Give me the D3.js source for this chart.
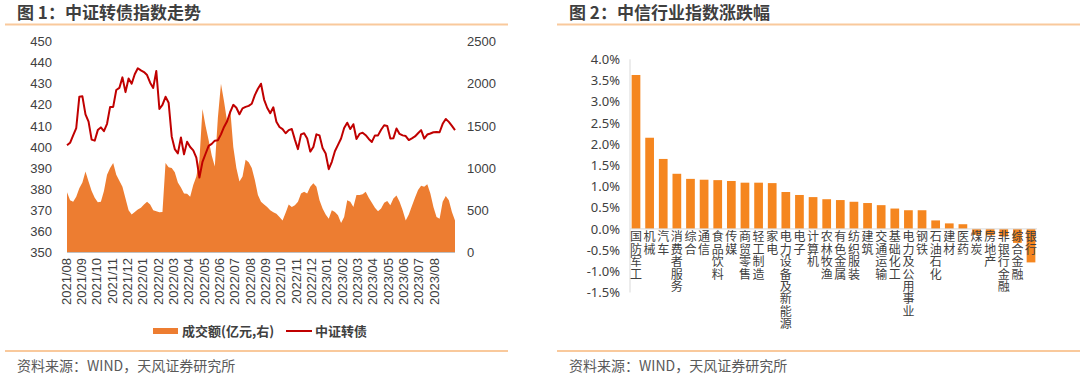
<!DOCTYPE html>
<html>
<head>
<meta charset="utf-8">
<script src="https://cdn.jsdelivr.net/npm/d3@7"></script>
<style>
  body { margin: 0; background: #fff; }
  svg { display: block; }
</style>
</head>
<body>
<div id="rendering"></div>
<script>
// 图1 month labels
const monthLabels = [
  "2021/08", "2021/09", "2021/10", "2021/11", "2021/12", "2022/01", "2022/02",
  "2022/03", "2022/04", "2022/05", "2022/06", "2022/07", "2022/08", "2022/09",
  "2022/10", "2022/11", "2022/12", "2023/01", "2023/02", "2023/03", "2023/04",
  "2023/05", "2023/06", "2023/07", "2023/08"
];
// 中证转债 (left axis), evenly spaced observations
const cbIndex = [
  400.8, 402, 405.5, 409, 423.8, 424, 415.5, 412, 403.5, 403, 408, 409.3, 407.5, 411, 419, 419,
  427, 428, 433, 426, 432.5, 430, 434.5, 437.3, 436.3, 435.5, 434.1, 430.5, 428, 436, 418, 420,
  423.8, 421, 405, 399, 397, 404.5, 396.5, 402.5, 400, 398.4, 395, 385.5, 393, 396.8, 400.5, 401.5,
  403, 403.2, 406, 409.5, 412.2, 416.5, 420, 418.6, 415.5, 418.3, 419, 419.5, 420.5, 424.6, 427.6, 430,
  422.5, 418.6, 416, 418.8, 412, 409.5, 408.5, 406.5, 408, 408.5, 403.5, 399, 406, 406.5, 404, 397.8,
  400, 406, 405.5, 399.5, 396.9, 389.5, 393, 398, 401, 404, 409, 411.5, 408.5, 410.8, 403.8, 406.2,
  406.8, 405.6, 403.8, 402.4, 405.5, 405.5, 408.2, 410.3, 410, 404, 404.2, 408.8, 406.2, 405.5, 405.2, 403.3,
  404.1, 405, 406.5, 408, 404, 405.9, 406.4, 407, 407.1, 407, 411, 413.3, 411.9, 410, 408
];
// 成交额(亿元, right axis)
const turnover = [
  714, 620, 600, 660, 760, 830, 960, 840, 730, 650, 595, 600, 730, 920, 1000, 1060,
  920, 850, 780, 640, 500, 450, 480, 510, 530, 570, 600, 570, 500, 490, 476, 480,
  1060, 1010, 1000, 950, 830, 770, 700, 695, 660, 800, 900, 1100, 1700, 1500, 1330, 1150,
  1020, 1600, 2000, 1790, 1550, 1700, 1250, 1000, 840, 900, 1100, 1070, 1000, 860, 680, 600,
  570, 540, 500, 476, 460, 420, 380, 470, 570, 540, 560, 600, 700, 720, 700, 780,
  820, 780, 620, 520, 450, 400, 500, 480, 440, 350, 420, 620, 600, 540, 680, 680,
  690, 720, 650, 590, 530, 490, 520, 590, 610, 560, 640, 675, 600, 500, 380, 450,
  550, 650, 740, 790, 780, 810, 700, 540, 420, 400, 600, 670, 620, 480, 380
];
const monthSpan = 25.3;

// 图2
const industries = [
  "国防军工", "机械", "汽车", "消费者服务", "综合", "通信", "食品饮料", "传媒", "商贸零售", "轻工制造",
  "家电", "电力设备及新能源", "电子", "计算机", "农林牧渔", "有色金属", "纺织服装", "建筑", "交通运输", "基础化工",
  "电力及公用事业", "钢铁", "石油石化", "建材", "医药", "煤炭", "房地产", "非银行金融", "综合金融", "银行"
];
const changes = [
  3.63, 2.15, 1.65, 1.30, 1.18, 1.16, 1.15, 1.13, 1.09, 1.09,
  1.08, 0.87, 0.80, 0.75, 0.70, 0.68, 0.64, 0.61, 0.56, 0.48,
  0.44, 0.44, 0.20, 0.13, 0.11, -0.14, -0.15, -0.18, -0.33, -0.79
];
const pctTicks = [-1.5, -1.0, -0.5, 0, 0.5, 1.0, 1.5, 2.0, 2.5, 3.0, 3.5, 4.0];

const width = 1080;
const height = 391;
const textColor = "#404040";
const latin = "'Liberation Sans', Arial, sans-serif";
const cjk = "'Noto Sans CJK SC', 'Noto Sans', sans-serif";

const svg = d3
  .select("#rendering")
  .append("svg")
  .attr("width", width)
  .attr("height", height);

// titles, rules and sources
const panels = [
  { title: "图 1：中证转债指数走势", tx: 17, x0: 5, x1: 508 },
  { title: "图 2：中信行业指数涨跌幅", tx: 569, x0: 557, x1: 1080 },
];
panels.forEach((p) => {
  svg.append("text")
    .attr("x", p.tx)
    .attr("y", 19)
    .attr("font-family", cjk)
    .attr("font-weight", "bold")
    .attr("font-size", 17)
    .attr("fill", "#3f3f3f")
    .text(p.title);
  [24.5, 351].forEach((y) => {
    svg.append("line")
      .attr("x1", p.x0)
      .attr("x2", p.x1)
      .attr("y1", y)
      .attr("y2", y)
      .attr("stroke", "#f9c99c")
      .attr("stroke-width", 2);
  });
  svg.append("text")
    .attr("x", p.tx)
    .attr("y", 371)
    .attr("font-family", cjk)
    .attr("font-size", 14)
    .attr("fill", "#595959")
    .text("资料来源：WIND，天风证券研究所");
});

// ---------- chart 1 ----------
const xL = d3.scaleLinear().domain([0, monthSpan]).range([67, 455]);
const yLeft = d3.scaleLinear().domain([350, 450]).range([252.5, 41.5]);
const yRight = d3.scaleLinear().domain([0, 2500]).range([252.5, 41.5]);
const tOf = (i, n) => (i * monthSpan) / (n - 1);

svg.append("path")
  .datum(turnover)
  .attr("fill", "#ed7d31")
  .attr("d", d3.area()
    .x((d, i) => xL(tOf(i, turnover.length)))
    .y0(yRight(0))
    .y1((d) => yRight(d)));

svg.append("line")
  .attr("x1", xL(0))
  .attr("x2", xL(monthSpan))
  .attr("y1", yLeft(350))
  .attr("y2", yLeft(350))
  .attr("stroke", "#bfbfbf");

svg.append("path")
  .datum(cbIndex)
  .attr("fill", "none")
  .attr("stroke", "#c00000")
  .attr("stroke-width", 2)
  .attr("stroke-linejoin", "round")
  .attr("d", d3.line()
    .x((d, i) => xL(tOf(i, cbIndex.length)))
    .y((d) => yLeft(d)));

const axisStyle = (g) => {
  g.select(".domain").remove();
  g.selectAll(".tick line").remove();
  g.selectAll("text")
    .attr("font-family", latin)
    .attr("font-size", 13)
    .attr("fill", textColor);
};

svg.append("g")
  .attr("transform", "translate(58,0)")
  .call(d3.axisLeft(yLeft).tickValues(d3.range(350, 451, 10)).tickSize(0).tickPadding(6))
  .call(axisStyle);

svg.append("g")
  .attr("transform", "translate(462,0)")
  .call(d3.axisRight(yRight).tickValues(d3.range(0, 2501, 500)).tickSize(0).tickPadding(5)
    .tickFormat(d3.format("d")))
  .call(axisStyle);

svg.append("g")
  .selectAll("text")
  .data(monthLabels)
  .enter()
  .append("text")
  .attr("transform", (d, i) => `translate(${xL(i) - 1},258) rotate(-90)`)
  .attr("text-anchor", "end")
  .attr("dy", "0.35em")
  .attr("font-family", latin)
  .attr("font-size", 13)
  .attr("fill", textColor)
  .text((d) => d);

// legend
const legend = svg.append("g").attr("font-family", cjk).attr("font-size", 13)
  .attr("font-weight", "bold").attr("fill", textColor);
legend.append("rect")
  .attr("x", 153).attr("y", 328).attr("width", 25).attr("height", 6)
  .attr("fill", "#ed7d31");
legend.append("text").attr("x", 182).attr("y", 336).text("成交额(亿元,右)");
legend.append("line")
  .attr("x1", 286).attr("x2", 312).attr("y1", 331).attr("y2", 331)
  .attr("stroke", "#c00000").attr("stroke-width", 2);
legend.append("text").attr("x", 315).attr("y", 336).text("中证转债");

// ---------- chart 2 ----------
const xB = d3.scaleBand().domain(industries).range([630, 1037]).paddingInner(0.36).paddingOuter(0.12);
const yB = d3.scaleLinear().domain([-1.5, 4]).range([292.5, 59.3]);

svg.append("line")
  .attr("x1", 630).attr("x2", 630)
  .attr("y1", yB(4)).attr("y2", yB(-1.5))
  .attr("stroke", "#d9d9d9");

svg.append("g")
  .selectAll("rect")
  .data(changes)
  .enter()
  .append("rect")
  .attr("x", (d, i) => xB(industries[i]))
  .attr("width", xB.bandwidth())
  .attr("y", (d) => yB(Math.max(0, d)))
  .attr("height", (d) => Math.abs(yB(d) - yB(0)))
  .attr("fill", "#f5861f");

svg.append("line")
  .attr("x1", 630).attr("x2", 1037)
  .attr("y1", yB(0)).attr("y2", yB(0))
  .attr("stroke", "#d9d9d9");

svg.append("g")
  .attr("transform", "translate(626,0)")
  .call(d3.axisLeft(yB).tickValues(pctTicks).tickSize(0).tickPadding(6)
    .tickFormat((d) => d.toFixed(1) + "%"))
  .call(axisStyle)
  .selectAll("text")
  .attr("font-family", "'Noto Sans', sans-serif");

// vertical category labels, one character per line
svg.append("g")
  .selectAll("text")
  .data(industries)
  .enter()
  .append("text")
  .attr("x", (d) => xB(d) + xB.bandwidth() / 2)
  .attr("y", yB(0) + 2)
  .style("writing-mode", "vertical-rl")
  .attr("letter-spacing", 0.4)
  .attr("font-family", cjk)
  .attr("font-size", 12)
  .attr("fill", textColor)
  .text((d) => d);
</script>
</body>
</html>
